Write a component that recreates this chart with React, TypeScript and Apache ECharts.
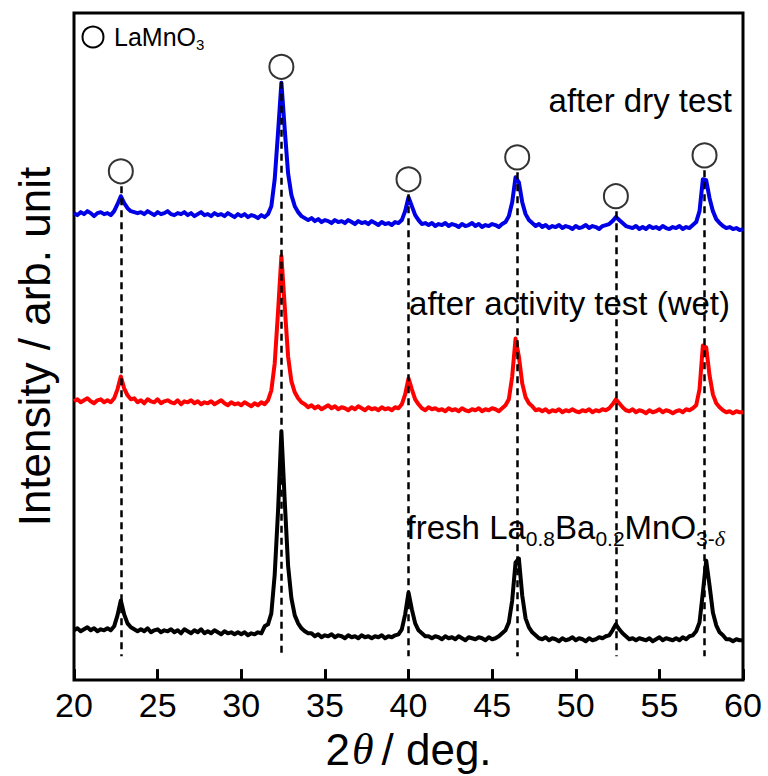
import React, { useEffect, useRef } from "react";
import * as echarts from "echarts";

// Scan settings: 2θ from 20° to 60° with a 0.2° step
const scanStart = 20;
const scanStep = 0.2;

// Intensities (arb. unit) for each pattern, one value per scan step, 10 values per 2°
const freshCounts = [
  50, 52, 49, 51, 53, 50, 52, 49, 51, 50,
  52, 50, 54, 65, 80, 66, 57, 53, 51, 49,
  51, 49, 52, 48, 50, 51, 48, 50, 49, 51,
  48, 50, 47, 51, 49, 47, 50, 48, 51, 47,
  49, 47, 50, 48, 46, 49, 47, 48, 46, 48,
  46, 48, 45, 47, 46, 48, 47, 54, 56, 67,
  106, 170, 250, 180, 115, 82, 65, 57, 52, 49,
  47, 47, 44, 46, 43, 45, 44, 46, 43, 45,
  44, 42, 45, 43, 44, 42, 45, 43, 44, 42,
  44, 43, 45, 42, 44, 43, 45, 46, 51, 66,
  88, 71, 57, 50, 47, 44, 44, 42, 44, 43,
  41, 44, 42, 43, 41, 44, 42, 40, 43, 42,
  41, 43, 42, 40, 43, 41, 42, 44, 47, 50,
  58, 80, 118, 122, 85, 62, 53, 48, 45, 42,
  41, 43, 40, 42, 41, 39, 42, 40, 41, 43,
  40, 42, 41, 39, 42, 40, 41, 43, 42, 44,
  45, 50, 56, 51, 47, 44, 41, 42, 40, 42,
  41, 40, 42, 39, 41, 43, 40, 42, 41, 40,
  42, 40, 43, 41, 44, 45, 49, 58, 88, 120,
  95, 68, 55, 48, 45, 41, 41, 39, 41, 40,
  40,
];

const wetCounts = [
  280, 282, 279, 281, 283, 280, 278, 281, 282, 279,
  281, 279, 283, 292, 305, 293, 286, 282, 283, 279,
  281, 278, 282, 280, 279, 282, 278, 280, 281, 279,
  278, 281, 277, 280, 279, 281, 278, 280, 277, 279,
  278, 280, 277, 279, 281, 278, 276, 279, 277, 278,
  276, 279, 277, 275, 278, 276, 279, 277, 281, 291,
  318, 370, 426, 375, 325, 300, 289, 283, 279, 277,
  274, 276, 273, 275, 272, 274, 276, 273, 275, 272,
  274, 273, 271, 274, 272, 275, 273, 271, 274, 272,
  273, 271, 274, 272, 273, 271, 274, 273, 277, 287,
  303, 292, 282, 277, 273, 271, 274, 272, 273, 271,
  272, 270, 273, 271, 272, 270, 273, 271, 270, 272,
  271, 273, 270, 272, 271, 273, 272, 270, 273, 276,
  282, 305, 343, 325, 298, 284, 278, 275, 271, 272,
  270, 272, 269, 271, 270, 272, 269, 271, 270, 272,
  270, 269, 271, 270, 272, 269, 271, 270, 272, 271,
  273, 277, 282, 278, 274, 271, 270, 272, 269, 271,
  270, 268, 271, 269, 270, 272, 269, 271, 270, 268,
  270, 271, 269, 272, 271, 273, 276, 292, 336, 334,
  306, 287, 278, 274, 271, 269, 270, 268, 270, 269,
  269,
];

const dryCounts = [
  469, 467, 470, 468, 471, 469, 466, 469, 470, 468,
  469, 467, 471, 478, 486, 479, 474, 471, 470, 469,
  470, 468, 471, 469, 467, 470, 468, 469, 471, 468,
  467, 469, 468, 470, 467, 469, 466, 468, 470, 467,
  468, 466, 469, 467, 468, 466, 469, 467, 465, 468,
  466, 468, 465, 467, 466, 464, 467, 465, 468, 476,
  503, 550, 600, 553, 509, 487, 476, 470, 466, 464,
  462, 464, 461, 463, 460, 462, 461, 459, 462, 460,
  461, 459, 462, 460, 458, 461, 459, 460, 458, 461,
  459, 457, 460, 458, 459, 457, 460, 459, 462, 471,
  485, 476, 467, 462, 458, 459, 457, 459, 456, 458,
  457, 459, 456, 458, 457, 455, 458, 456, 457, 459,
  456, 458, 455, 457, 456, 458, 457, 455, 458, 460,
  466, 480, 505, 500, 480, 468, 462, 459, 456, 458,
  455, 457, 454, 456, 455, 457, 454, 456, 455, 453,
  456, 454, 455, 457, 454, 456, 455, 453, 456, 457,
  458, 461, 465, 462, 459, 456, 455, 454, 456, 453,
  455, 453, 456, 454, 455, 453, 456, 454, 453, 455,
  454, 456, 453, 455, 454, 457, 460, 471, 503, 502,
  484, 471, 463, 459, 456, 454, 455, 453, 454, 452,
  453,
];

// LaMnO3 reflections: 2θ positions and the height of each marker circle
const peakPositions = [22.8, 32.4, 40.0, 46.5, 52.4, 57.7];
const markerHeights = [511, 616, 503, 525, 486, 527];

// x-axis ticks
const xTicks = [20, 25, 30, 35, 40, 45, 50, 55, 60];

const SANS = "'Liberation Sans', Arial, Helvetica, sans-serif";
const SERIF = "'Liberation Serif', 'Times New Roman', serif";

const twoTheta = freshCounts.map((_, i) => +(scanStart + i * scanStep).toFixed(1));
const pairs = (counts: number[]) => counts.map((c, i) => [twoTheta[i], c]);

export default function App() {
  const ref = useRef<HTMLDivElement>(null);

  useEffect(() => {
    if (!ref.current) return;
    const chart = echarts.init(ref.current, null, { renderer: "svg" });

    const trace = (name: string, counts: number[], color: string) => ({
      name,
      type: "line",
      data: pairs(counts),
      showSymbol: false,
      symbol: "none",
      lineStyle: { color, width: 4, join: "round" },
      z: 2,
      silent: true,
    });

    chart.setOption({
      animation: false,
      backgroundColor: "#ffffff",
      textStyle: { fontFamily: SANS },
      grid: {
        left: 74,
        top: 13,
        width: 669,
        height: 670,
        show: true,
        borderColor: "#000",
        borderWidth: 3,
        backgroundColor: "transparent",
      },
      xAxis: {
        type: "value",
        min: xTicks[0],
        max: xTicks[xTicks.length - 1],
        interval: 5,
        axisLine: { show: false },
        axisTick: { show: true, inside: true, length: 11, lineStyle: { color: "#000", width: 3 } },
        axisLabel: { color: "#000", fontSize: 34, fontFamily: SANS, margin: 8 },
        splitLine: { show: false },
        name: "{a|2}{t|θ}{a|/ deg.}",
        nameLocation: "middle",
        nameGap: 38,
        nameTextStyle: {
          rich: {
            a: { fontSize: 44, fontFamily: SANS, color: "#000" },
            t: { fontSize: 44, fontFamily: SERIF, fontStyle: "italic", color: "#000", padding: [0, 8, 0, 2] },
          },
        },
      },
      yAxis: {
        type: "value",
        min: 0,
        max: 670,
        axisLine: { show: false },
        axisTick: { show: false },
        axisLabel: { show: false },
        splitLine: { show: false },
        name: "Intensity / arb. unit",
        nameLocation: "middle",
        nameGap: 18,
        nameTextStyle: { fontSize: 44, fontFamily: SANS, color: "#000" },
      },
      series: [
        trace("fresh", freshCounts, "#000000"),
        trace("after activity test (wet)", wetCounts, "#ff0000"),
        trace("after dry test", dryCounts, "#0000e6"),
        {
          name: "LaMnO3",
          type: "scatter",
          data: peakPositions.map((p, i) => [p, markerHeights[i]]),
          symbol: "circle",
          symbolSize: 24,
          itemStyle: { color: "#ffffff", borderColor: "#000", borderWidth: 2 },
          z: 5,
          silent: true,
          markLine: {
            silent: true,
            symbol: ["none", "none"],
            label: { show: false },
            lineStyle: { color: "#000", width: 2.5, type: [7, 5] },
            data: peakPositions.map((p, i) => [
              { coord: [p, markerHeights[i] - 15] },
              { coord: [p, 24] },
            ]),
          },
        },
      ],
      graphic: [
        {
          type: "circle",
          shape: { cx: 93, cy: 37, r: 10.5 },
          style: { fill: "#fff", stroke: "#000", lineWidth: 2 },
          z: 10,
        },
        {
          type: "text",
          x: 114,
          y: 37,
          style: {
            text: "{m|LaMnO}{s|3}",
            verticalAlign: "middle",
            rich: {
              m: { fontSize: 25, fontFamily: SANS, fill: "#000", lineHeight: 30 },
              s: { fontSize: 15, fontFamily: SANS, fill: "#000", lineHeight: 15, verticalAlign: "bottom" },
            },
          },
          z: 10,
        },
        {
          type: "text",
          x: 732,
          y: 100,
          style: {
            text: "after dry test",
            align: "right",
            verticalAlign: "middle",
            fontSize: 33,
            fontFamily: SANS,
            fill: "#000",
          },
          z: 10,
        },
        {
          type: "text",
          x: 730,
          y: 303,
          style: {
            text: "after activity test (wet)",
            align: "right",
            verticalAlign: "middle",
            fontSize: 33,
            fontFamily: SANS,
            fill: "#000",
          },
          z: 10,
        },
        {
          type: "text",
          x: 725,
          y: 527,
          style: {
            text: "{m|fresh La}{s|0.8}{m|Ba}{s|0.2}{m|MnO}{s|3-}{d|δ}",
            align: "right",
            verticalAlign: "middle",
            rich: {
              m: { fontSize: 33, fontFamily: SANS, fill: "#000", lineHeight: 44 },
              s: { fontSize: 21, fontFamily: SANS, fill: "#000", lineHeight: 21, verticalAlign: "bottom" },
              d: { fontSize: 22, fontFamily: SERIF, fontStyle: "italic", fill: "#000", lineHeight: 22, verticalAlign: "bottom" },
            },
          },
          z: 10,
        },
      ],
    });

    return () => chart.dispose();
  }, []);

  return (
    <div
      ref={ref}
      style={{ position: "fixed", left: 0, top: 0, width: 768, height: 776, background: "#fff" }}
    />
  );
}
